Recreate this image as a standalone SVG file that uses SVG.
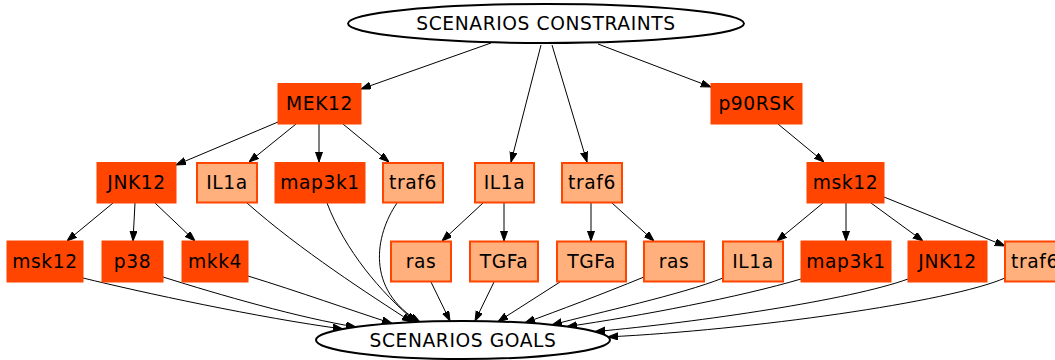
<svg xmlns="http://www.w3.org/2000/svg" width="1055" height="360" viewBox="0 0 1055 360">
<style>
  text { font-family: "DejaVu Sans", "Liberation Sans", sans-serif; font-size: 18.67px; letter-spacing: 0.6px; fill: #000; text-anchor: middle; }
  .dark { fill: #ff4500; stroke: #ff4500; stroke-width: 1; }
  .light { fill: #ffb07c; stroke: #ff4500; stroke-width: 2; }
  .ell { fill: #fff; stroke: #000; stroke-width: 2; }
  #edges path { fill: none; stroke: #000; stroke-width: 1; marker-end: url(#arr); }
</style>
<defs>
  <marker id="arr" markerUnits="userSpaceOnUse" markerWidth="10" markerHeight="8" refX="10" refY="3.5" orient="auto">
    <path d="M0,0 L10,3.5 L0,7 z" fill="#000" stroke="#000" stroke-width="1"/>
  </marker>
</defs>
<rect width="1055" height="360" fill="#fff"/>

<g id="edges">
  <path d="M491,43 L361,89"/>
  <path d="M541,45 L511,162"/>
  <path d="M552,45 L587,162"/>
  <path d="M598,44 L711,87"/>
  <path d="M278,122 L176,165"/>
  <path d="M296,124 L249,162"/>
  <path d="M319,124 L319,162"/>
  <path d="M343,124 L389,162"/>
  <path d="M113,203 L67,241"/>
  <path d="M135,203 L133,241"/>
  <path d="M155,203 L195,241"/>
  <path d="M483,203 L442,241"/>
  <path d="M504,203 L504,241"/>
  <path d="M591,203 L591,241"/>
  <path d="M612,203 L654,241"/>
  <path d="M778,124 L824,162"/>
  <path d="M823,203 L777,241"/>
  <path d="M846,203 L846,241"/>
  <path d="M871,203 L923,241"/>
  <path d="M884,197 L1005,246"/>
  <path d="M83,278 C140,292 260,318 343,329"/>
  <path d="M163,277 C220,295 300,318 356,327"/>
  <path d="M248,276 C300,292 350,310 392,323.4"/>
  <path d="M247,203 C300,250 370,295 412,322.2"/>
  <path d="M327,203 C345,250 380,292 416,322"/>
  <path d="M397,203 C375,235 365,290 420,322"/>
  <path d="M431,282 L450,321"/>
  <path d="M494,282 L475,321"/>
  <path d="M560,282 L498,321.6"/>
  <path d="M644,277 C600,295 560,310 525,322.8"/>
  <path d="M723,278 C680,295 600,312 552,324.9"/>
  <path d="M801,279 C740,297 640,316 567,326.6"/>
  <path d="M908,279 C850,300 700,322 595,331.6"/>
  <path d="M1005,278 C950,302 750,330 608,336.9"/>
</g>

<g id="n_constraints"><ellipse class="ell" cx="546" cy="23.5" rx="198" ry="19.5"/><text x="546" y="30">SCENARIOS CONSTRAINTS</text></g>
<g id="n_goals"><ellipse class="ell" cx="463" cy="340" rx="147" ry="19"/><text x="463" y="346.5">SCENARIOS GOALS</text></g>

<g id="n_mek12"><rect class="dark" x="278" y="83.5" width="83" height="40.5"/><text x="319.5" y="110">MEK12</text></g>
<g id="n_p90rsk"><rect class="dark" x="711" y="83.5" width="91" height="40.5"/><text x="756.5" y="110">p90RSK</text></g>

<g id="n_jnk12_a"><rect class="dark" x="97" y="162.5" width="79" height="40.5"/><text x="136.5" y="189">JNK12</text></g>
<g id="n_il1a_a"><rect class="light" x="197" y="163" width="60" height="39.5"/><text x="227" y="189">IL1a</text></g>
<g id="n_map3k1_a"><rect class="dark" x="275" y="162.5" width="90" height="40.5"/><text x="320" y="189">map3k1</text></g>
<g id="n_traf6_a"><rect class="light" x="383" y="163" width="60" height="39.5"/><text x="413" y="189">traf6</text></g>
<g id="n_il1a_b"><rect class="light" x="475" y="163" width="59" height="39.5"/><text x="504.5" y="189">IL1a</text></g>
<g id="n_traf6_b"><rect class="light" x="562" y="163" width="60" height="39.5"/><text x="592" y="189">traf6</text></g>
<g id="n_msk12_b"><rect class="dark" x="807" y="162.5" width="77" height="40.5"/><text x="845.5" y="189">msk12</text></g>

<g id="n_msk12_a"><rect class="dark" x="7" y="241" width="76" height="41"/><text x="45" y="268">msk12</text></g>
<g id="n_p38"><rect class="dark" x="102" y="241" width="61" height="41"/><text x="132.5" y="268">p38</text></g>
<g id="n_mkk4"><rect class="dark" x="182" y="241" width="66" height="41"/><text x="215" y="268">mkk4</text></g>
<g id="n_ras_a"><rect class="light" x="391" y="241.5" width="60" height="40"/><text x="421" y="268">ras</text></g>
<g id="n_tgfa_a"><rect class="light" x="470" y="241.5" width="68" height="40"/><text x="504" y="268">TGFa</text></g>
<g id="n_tgfa_b"><rect class="light" x="557" y="241.5" width="69" height="40"/><text x="591.5" y="268">TGFa</text></g>
<g id="n_ras_b"><rect class="light" x="644" y="241.5" width="60" height="40"/><text x="674" y="268">ras</text></g>
<g id="n_il1a_c"><rect class="light" x="723" y="241.5" width="60" height="40"/><text x="753" y="268">IL1a</text></g>
<g id="n_map3k1_b"><rect class="dark" x="801" y="241" width="90" height="41"/><text x="846" y="268">map3k1</text></g>
<g id="n_jnk12_b"><rect class="dark" x="908" y="241" width="79" height="41"/><text x="947.5" y="268">JNK12</text></g>
<g id="n_traf6_c"><rect class="light" x="1005" y="241.5" width="60" height="40"/><text x="1035" y="268">traf6</text></g>
</svg>
